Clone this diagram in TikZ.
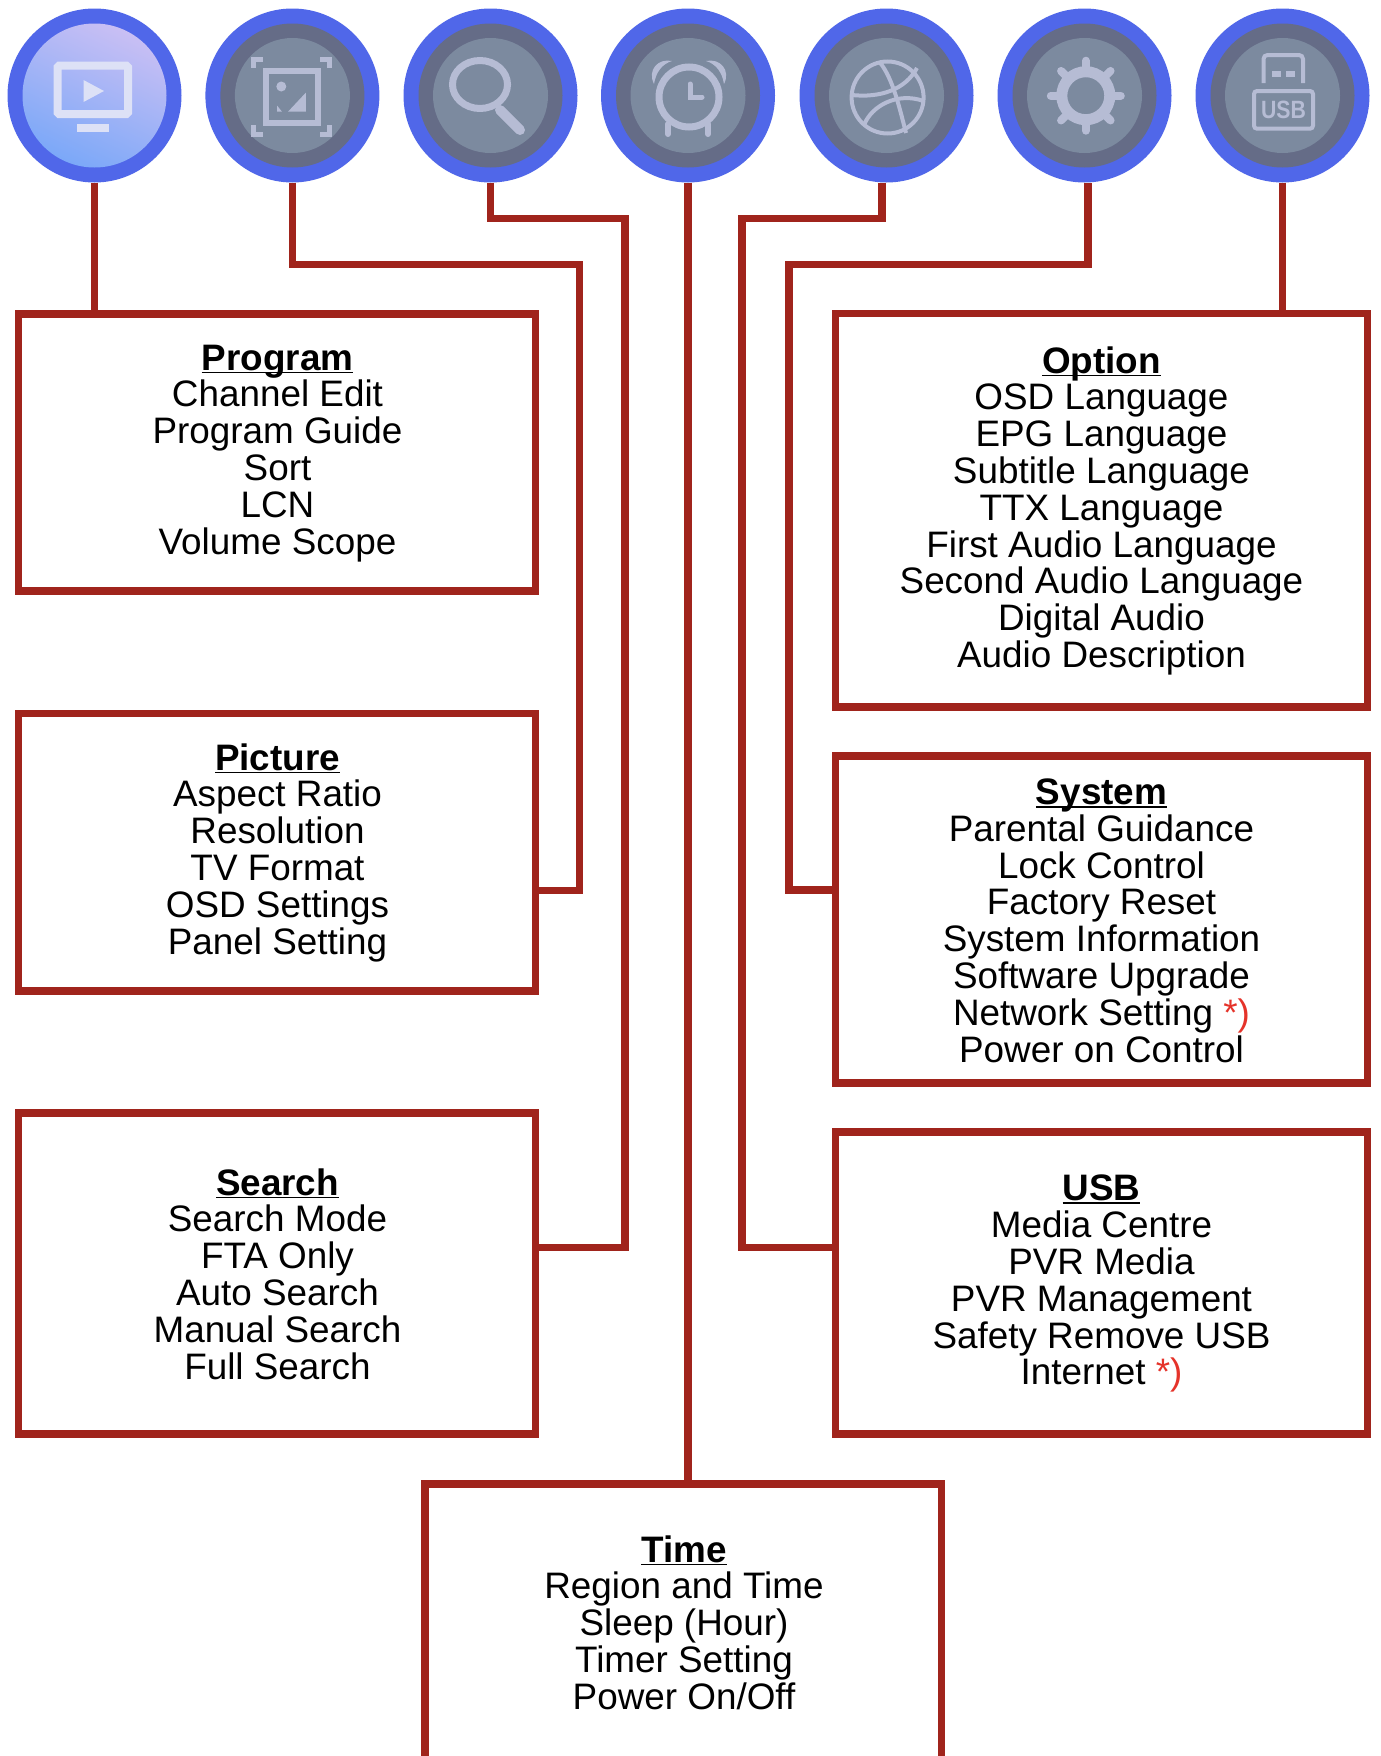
\documentclass[tikz,border=0pt]{standalone}
\usepackage{fontspec}
\usetikzlibrary{calc}
\setmainfont{Liberation Sans}
\definecolor{linec}{HTML}{A0241C}
\definecolor{ringc}{HTML}{5067E9}
\definecolor{darkc}{HTML}{656C87}
\definecolor{midc}{HTML}{7C8A9F}
\definecolor{iconc}{HTML}{B6BCD4}
\definecolor{activeic}{HTML}{DDE1F6}
\definecolor{starc}{HTML}{E5332A}
\definecolor{bluetop}{HTML}{C9BFF4}
\definecolor{bluebot}{HTML}{7BA8F8}
\newcommand{\ttl}[1]{\setbox0\hbox{\bfseries #1}\rule{0pt}{30pt}\rlap{\rule[-3pt]{\wd0}{1.5pt}}\box0}
\newcommand{\strs}{{\color{starc}*)}}
\tikzset{
  x=1pt,y=-1pt,
  conn/.style={draw=linec,line width=7.4pt,line join=miter},
  menubox/.style={rectangle,draw=linec,line width=7.4pt,inner sep=0pt,outer sep=0pt},
  menutext/.style={anchor=north,align=center,inner sep=0pt,outer sep=0pt,text=black,font=\fontsize{36.85}{36.8}\selectfont},
  ringnode/.style={circle,fill=ringc,minimum size=174pt,inner sep=0pt,outer sep=0pt},
  darkdisc/.style={circle,fill=darkc,minimum size=144pt,inner sep=0pt,outer sep=0pt},
  middisc/.style={circle,fill=midc,minimum size=115pt,inner sep=0pt,outer sep=0pt},
  activedisc/.style={circle,minimum size=144pt,inner sep=0pt,outer sep=0pt,top color=bluetop,bottom color=bluebot,shading angle=-25},
  ic/.style={draw=iconc,line width=#1,fill=none},
  ic/.default=6pt,
  icf/.style={fill=iconc,draw=none},
  aic/.style={draw=activeic,line width=#1,fill=none},
  aicf/.style={fill=activeic,draw=none}
}
\begin{document}
\begin{tikzpicture}
\path[use as bounding box,fill=white] (0,0) rectangle (1381,1756);
% discs
\node[ringnode] (c1) at (94.5,95.5) {};
\node[ringnode] (c2) at (292.4,95.5) {};
\node[ringnode] (c3) at (490.5,95.5) {};
\node[ringnode] (c4) at (688,95.5) {};
\node[ringnode] (c5) at (886.5,95.5) {};
\node[ringnode] (c6) at (1084.5,95.5) {};
\node[ringnode] (c7) at (1282.5,95.5) {};
\node[activedisc] (a1) at (c1) {};
\foreach \n in {2,...,7}{
  \node[darkdisc] (d\n) at (c\n) {};
  \node[middisc] (m\n) at (c\n) {};
}
% icon 1 monitor
\draw[aic=8pt,rounded corners=1.5pt] (57.5,65.7) rectangle (128,114);
\fill[aicf] (83.5,80) -- (104,91) -- (83.5,102) -- cycle;
\fill[aicf] (77,124) rectangle (108.5,131.7);
% icon 2 picture frame
\draw[ic=6pt] (265.5,70.7) rectangle (317.5,123);
\fill[icf] (281.3,86.5) circle [radius=5];
\fill[icf] (288,111.7) -- (305.8,92.7) -- (305.8,111.7) -- cycle;
\fill[icf] (277,105.5) -- (282,111.7) -- (277,111.7) -- cycle;
\draw[ic=5pt] (253.5,68) -- (253.5,59.5) -- (263,59.5);
\draw[ic=5pt] (320,59.5) -- (329.5,59.5) -- (329.5,68);
\draw[ic=5pt] (253.5,125) -- (253.5,134.5) -- (263,134.5);
\draw[ic=5pt] (320,134.5) -- (329.5,134.5) -- (329.5,125);
% icon 3 magnifier
\draw[ic=7pt] (480,84.5) ellipse [x radius=27.5,y radius=24];
\draw[ic=10pt,line cap=round] (500,110) -- (520,130);
% icon 4 alarm clock
\draw[ic=7pt] (689,97) circle [radius=30];
\draw[ic=5pt,line cap=round] (690,84) -- (690,97) -- (702,97);
\draw[ic=6pt,line cap=round] (668,124) -- (668,134);
\draw[ic=6pt,line cap=round] (708,124) -- (708,134);
\fill[icf] (654,84) .. controls (647,70) and (658,58) .. (672,61) .. controls (662,64) and (656,72) .. (654,84) -- cycle;
\fill[icf] (724,84) .. controls (731,70) and (720,58) .. (706,61) .. controls (716,64) and (722,72) .. (724,84) -- cycle;
% icon 5 ball
\draw[ic=4pt] (887.6,97.5) circle [radius=36];
\draw[ic=4pt] (879.5,62) .. controls (893,78) and (900,110) .. (906,133);
\draw[ic=4pt] (851.5,95) .. controls (880,98) and (905,90) .. (917,68);
\draw[ic=4pt] (864,125) .. controls (872,105) and (898,92) .. (923.5,101);
% icon 6 gear
\draw[ic=11pt] (1085.8,95.7) circle [radius=24];
\foreach \a in {0,45,...,315}{
  \draw[ic=8pt,line cap=round] ($(1085.8,95.7)+(\a:26)$) -- ($(1085.8,95.7)+(\a:35)$);
}
% icon 7 usb
\draw[ic=4pt,rounded corners=4pt] (1263.5,83) -- (1263.5,55) -- (1303,55) -- (1303,83);
\fill[icf] (1271.8,70.7) rectangle (1280.6,77.3);
\fill[icf] (1285.8,70.7) rectangle (1294.6,77.3);
\draw[ic=4pt,rounded corners=3pt] (1254,91) rectangle (1313,128.7);
\node[inner sep=0pt,text=iconc,font=\bfseries\fontsize{25}{25}\selectfont,transform shape,xscale=.85] (usbmark) at (1283.5,110) {USB};
% boxes
\node[menubox,minimum width=517.2pt,minimum height=277pt] (bProgram) at (276.8,452.5) {};
\node[menubox,minimum width=517.2pt,minimum height=277.5pt] (bPicture) at (276.8,852.25) {};
\node[menubox,minimum width=517.2pt,minimum height=321pt] (bSearch) at (276.8,1273.5) {};
\node[menubox,minimum width=532pt,minimum height=393.4pt] (bOption) at (1101.5,510.3) {};
\node[menubox,minimum width=532pt,minimum height=327pt] (bSystem) at (1101.5,919.5) {};
\node[menubox,minimum width=532pt,minimum height=302pt] (bUSB) at (1101.5,1283) {};
\node[menubox,minimum width=516.8pt,minimum height=400pt] (bTime) at (683.2,1684) {};
% connectors
\coordinate (j2a) at (579.7,264.5);
\coordinate (j2b) at (579.7,890.5);
\coordinate (j3a) at (625,218.5);
\coordinate (j3b) at (625,1247.6);
\coordinate (j5x) at (882,218.5);
\coordinate (j5a) at (742,218.5);
\coordinate (j5b) at (742,1247.6);
\coordinate (j6x) at (1088,264.5);
\coordinate (j6a) at (789,264.5);
\coordinate (j6b) at (789,890);
\draw[conn] (c1.south) -- (c1.south |- bProgram.north);
\draw[conn] (c2.south) |- (j2a) -- (j2b) -- (bPicture.east |- j2b);
\draw[conn] (c3.south) |- (j3a) -- (j3b) -- (bSearch.east |- j3b);
\draw[conn] (c4.south) -- (c4.south |- bTime.north);
\draw[conn] (j5x |- c5.south) -- (j5x) -- (j5a) -- (j5b) -- (bUSB.west |- j5b);
\draw[conn] (j6x |- c6.south) -- (j6x) -- (j6a) -- (j6b) -- (bSystem.west |- j6b);
\draw[conn] (c7.south) -- (c7.south |- bOption.north);
% texts
\node[menutext] (tProgram) at (277.5,340.1) {\ttl{Program}\\Channel Edit\\Program Guide\\Sort\\LCN\\Volume Scope};
\node[menutext] (tPicture) at (277.5,740) {\ttl{Picture}\\Aspect Ratio\\Resolution\\TV Format\\OSD Settings\\Panel Setting};
\node[menutext] (tSearch) at (277.5,1165) {\ttl{Search}\\Search Mode\\FTA Only\\Auto Search\\Manual Search\\Full Search};
\node[menutext] (tOption) at (1101.5,343) {\ttl{Option}\\OSD Language\\EPG Language\\Subtitle Language\\TTX Language\\First Audio Language\\Second Audio Language\\Digital Audio\\Audio Description};
\node[menutext] (tSystem) at (1101.5,774.5) {\ttl{System}\\Parental Guidance\\Lock Control\\Factory Reset\\System Information\\Software Upgrade\\Network Setting \strs\\Power on Control};
\node[menutext] (tUSB) at (1101.5,1170.9) {\ttl{USB}\\Media Centre\\PVR Media\\PVR Management\\Safety Remove USB\\Internet \strs};
\node[menutext] (tTime) at (684,1532) {\ttl{Time}\\Region and Time\\Sleep (Hour)\\Timer Setting\\Power On/Off};
\end{tikzpicture}
\end{document}
